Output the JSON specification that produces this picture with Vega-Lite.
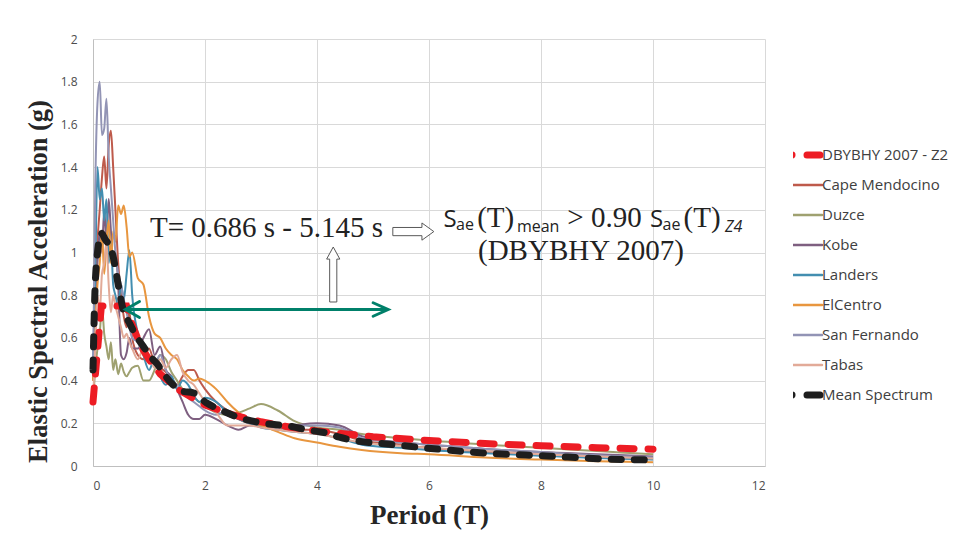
{
  "$schema": "https://vega.github.io/schema/vega-lite/v6.json",
  "width": 672,
  "height": 427,
  "autosize": {"type": "none"},
  "padding": {"left": 93, "top": 39, "right": 191, "bottom": 78},
  "background": "white",
  "config": {
    "view": {"stroke": null},
    "font": "Open Sans",
    "axis": {
      "grid": true,
      "gridColor": "#d9d9d9",
      "gridWidth": 1,
      "domainColor": "#bfbfbf",
      "ticks": false,
      "tickSize": 0,
      "labelFont": "Open Sans",
      "labelFontSize": 12,
      "labelColor": "#4d4d4d",
      "titleFont": "Liberation Serif",
      "titleFontWeight": "bold",
      "titleColor": "#262626"
    }
  },
  "datasets": {
    "rec": [
      {"T": 0, "Cape Mendocino": 0.40, "Duzce": 0.30, "Kobe": 0.42, "Landers": 0.45, "ElCentro": 0.40, "San Fernando": 0.42, "Tabas": 0.30},
      {"T": 0.04, "Cape Mendocino": 0.75, "Duzce": 0.45, "Kobe": 0.70, "Landers": 0.90, "ElCentro": 0.65, "San Fernando": 1.30, "Tabas": 0.55},
      {"T": 0.08, "Cape Mendocino": 1.05, "Duzce": 0.55, "Kobe": 0.95, "Landers": 1.40, "ElCentro": 0.85, "San Fernando": 1.70, "Tabas": 0.80},
      {"T": 0.12, "Cape Mendocino": 1.20, "Duzce": 0.62, "Kobe": 1.10, "Landers": 1.25, "ElCentro": 0.95, "San Fernando": 1.80, "Tabas": 0.72},
      {"T": 0.16, "Cape Mendocino": 1.35, "Duzce": 0.75, "Kobe": 1.00, "Landers": 1.30, "ElCentro": 1.10, "San Fernando": 1.55, "Tabas": 0.90},
      {"T": 0.2, "Cape Mendocino": 1.45, "Duzce": 0.62, "Kobe": 1.20, "Landers": 1.15, "ElCentro": 0.90, "San Fernando": 1.58, "Tabas": 0.95},
      {"T": 0.24, "Cape Mendocino": 1.30, "Duzce": 0.56, "Kobe": 1.05, "Landers": 1.25, "ElCentro": 1.05, "San Fernando": 1.72, "Tabas": 1.05},
      {"T": 0.28, "Cape Mendocino": 1.50, "Duzce": 0.50, "Kobe": 1.25, "Landers": 0.95, "ElCentro": 1.15, "San Fernando": 1.45, "Tabas": 0.85},
      {"T": 0.32, "Cape Mendocino": 1.57, "Duzce": 0.58, "Kobe": 1.10, "Landers": 1.05, "ElCentro": 0.95, "San Fernando": 1.30, "Tabas": 0.72},
      {"T": 0.36, "Cape Mendocino": 1.40, "Duzce": 0.45, "Kobe": 0.95, "Landers": 0.85, "ElCentro": 1.10, "San Fernando": 1.15, "Tabas": 0.80},
      {"T": 0.4, "Cape Mendocino": 1.20, "Duzce": 0.50, "Kobe": 1.00, "Landers": 0.80, "ElCentro": 1.05, "San Fernando": 1.00, "Tabas": 0.75},
      {"T": 0.45, "Cape Mendocino": 0.95, "Duzce": 0.43, "Kobe": 0.85, "Landers": 0.75, "ElCentro": 1.22, "San Fernando": 0.90, "Tabas": 0.70},
      {"T": 0.5, "Cape Mendocino": 0.80, "Duzce": 0.48, "Kobe": 0.52, "Landers": 0.85, "ElCentro": 1.18, "San Fernando": 0.85, "Tabas": 0.65},
      {"T": 0.55, "Cape Mendocino": 0.70, "Duzce": 0.44, "Kobe": 0.50, "Landers": 0.78, "ElCentro": 1.22, "San Fernando": 0.78, "Tabas": 0.60},
      {"T": 0.6, "Cape Mendocino": 0.65, "Duzce": 0.42, "Kobe": 0.53, "Landers": 0.90, "ElCentro": 1.12, "San Fernando": 0.72, "Tabas": 0.62},
      {"T": 0.65, "Cape Mendocino": 0.72, "Duzce": 0.44, "Kobe": 0.60, "Landers": 1.01, "ElCentro": 0.98, "San Fernando": 0.65, "Tabas": 0.58},
      {"T": 0.7, "Cape Mendocino": 0.60, "Duzce": 0.46, "Kobe": 0.55, "Landers": 0.80, "ElCentro": 1.00, "San Fernando": 0.60, "Tabas": 0.55},
      {"T": 0.8, "Cape Mendocino": 0.52, "Duzce": 0.47, "Kobe": 0.55, "Landers": 0.62, "ElCentro": 0.88, "San Fernando": 0.58, "Tabas": 0.50},
      {"T": 0.9, "Cape Mendocino": 0.50, "Duzce": 0.40, "Kobe": 0.60, "Landers": 0.52, "ElCentro": 0.85, "San Fernando": 0.52, "Tabas": 0.55},
      {"T": 1.0, "Cape Mendocino": 0.55, "Duzce": 0.40, "Kobe": 0.64, "Landers": 0.45, "ElCentro": 0.70, "San Fernando": 0.50, "Tabas": 0.52},
      {"T": 1.1, "Cape Mendocino": 0.48, "Duzce": 0.45, "Kobe": 0.52, "Landers": 0.50, "ElCentro": 0.62, "San Fernando": 0.48, "Tabas": 0.46},
      {"T": 1.2, "Cape Mendocino": 0.46, "Duzce": 0.52, "Kobe": 0.56, "Landers": 0.42, "ElCentro": 0.60, "San Fernando": 0.52, "Tabas": 0.50},
      {"T": 1.3, "Cape Mendocino": 0.44, "Duzce": 0.50, "Kobe": 0.45, "Landers": 0.38, "ElCentro": 0.55, "San Fernando": 0.45, "Tabas": 0.46},
      {"T": 1.4, "Cape Mendocino": 0.40, "Duzce": 0.44, "Kobe": 0.42, "Landers": 0.42, "ElCentro": 0.52, "San Fernando": 0.40, "Tabas": 0.50},
      {"T": 1.5, "Cape Mendocino": 0.38, "Duzce": 0.40, "Kobe": 0.36, "Landers": 0.36, "ElCentro": 0.50, "San Fernando": 0.38, "Tabas": 0.52},
      {"T": 1.6, "Cape Mendocino": 0.42, "Duzce": 0.36, "Kobe": 0.30, "Landers": 0.40, "ElCentro": 0.45, "San Fernando": 0.35, "Tabas": 0.44},
      {"T": 1.7, "Cape Mendocino": 0.45, "Duzce": 0.33, "Kobe": 0.24, "Landers": 0.38, "ElCentro": 0.42, "San Fernando": 0.32, "Tabas": 0.40},
      {"T": 1.8, "Cape Mendocino": 0.45, "Duzce": 0.32, "Kobe": 0.22, "Landers": 0.33, "ElCentro": 0.40, "San Fernando": 0.30, "Tabas": 0.38},
      {"T": 1.9, "Cape Mendocino": 0.40, "Duzce": 0.30, "Kobe": 0.22, "Landers": 0.30, "ElCentro": 0.41, "San Fernando": 0.28, "Tabas": 0.34},
      {"T": 2.0, "Cape Mendocino": 0.36, "Duzce": 0.28, "Kobe": 0.24, "Landers": 0.32, "ElCentro": 0.40, "San Fernando": 0.26, "Tabas": 0.30},
      {"T": 2.2, "Cape Mendocino": 0.30, "Duzce": 0.25, "Kobe": 0.22, "Landers": 0.30, "ElCentro": 0.36, "San Fernando": 0.24, "Tabas": 0.25},
      {"T": 2.4, "Cape Mendocino": 0.26, "Duzce": 0.24, "Kobe": 0.19, "Landers": 0.25, "ElCentro": 0.30, "San Fernando": 0.26, "Tabas": 0.19},
      {"T": 2.6, "Cape Mendocino": 0.22, "Duzce": 0.25, "Kobe": 0.17, "Landers": 0.22, "ElCentro": 0.25, "San Fernando": 0.23, "Tabas": 0.19},
      {"T": 2.8, "Cape Mendocino": 0.20, "Duzce": 0.27, "Kobe": 0.19, "Landers": 0.20, "ElCentro": 0.21, "San Fernando": 0.21, "Tabas": 0.19},
      {"T": 3.0, "Cape Mendocino": 0.19, "Duzce": 0.29, "Kobe": 0.19, "Landers": 0.18, "ElCentro": 0.19, "San Fernando": 0.20, "Tabas": 0.18},
      {"T": 3.3, "Cape Mendocino": 0.18, "Duzce": 0.26, "Kobe": 0.18, "Landers": 0.17, "ElCentro": 0.16, "San Fernando": 0.19, "Tabas": 0.17},
      {"T": 3.6, "Cape Mendocino": 0.17, "Duzce": 0.21, "Kobe": 0.19, "Landers": 0.16, "ElCentro": 0.13, "San Fernando": 0.19, "Tabas": 0.16},
      {"T": 4.0, "Cape Mendocino": 0.17, "Duzce": 0.18, "Kobe": 0.20, "Landers": 0.15, "ElCentro": 0.11, "San Fernando": 0.19, "Tabas": 0.15},
      {"T": 4.4, "Cape Mendocino": 0.15, "Duzce": 0.17, "Kobe": 0.19, "Landers": 0.13, "ElCentro": 0.09, "San Fernando": 0.18, "Tabas": 0.13},
      {"T": 4.8, "Cape Mendocino": 0.12, "Duzce": 0.15, "Kobe": 0.14, "Landers": 0.10, "ElCentro": 0.075, "San Fernando": 0.13, "Tabas": 0.11},
      {"T": 5.5, "Cape Mendocino": 0.10, "Duzce": 0.13, "Kobe": 0.11, "Landers": 0.085, "ElCentro": 0.06, "San Fernando": 0.11, "Tabas": 0.095},
      {"T": 6, "Cape Mendocino": 0.085, "Duzce": 0.12, "Kobe": 0.10, "Landers": 0.075, "ElCentro": 0.055, "San Fernando": 0.10, "Tabas": 0.085},
      {"T": 7, "Cape Mendocino": 0.065, "Duzce": 0.10, "Kobe": 0.08, "Landers": 0.06, "ElCentro": 0.04, "San Fernando": 0.08, "Tabas": 0.07},
      {"T": 8, "Cape Mendocino": 0.05, "Duzce": 0.085, "Kobe": 0.065, "Landers": 0.048, "ElCentro": 0.03, "San Fernando": 0.065, "Tabas": 0.055},
      {"T": 9, "Cape Mendocino": 0.04, "Duzce": 0.07, "Kobe": 0.055, "Landers": 0.038, "ElCentro": 0.022, "San Fernando": 0.05, "Tabas": 0.045},
      {"T": 10, "Cape Mendocino": 0.032, "Duzce": 0.055, "Kobe": 0.045, "Landers": 0.03, "ElCentro": 0.018, "San Fernando": 0.04, "Tabas": 0.035}
    ],
    "design": [
      {"T": 0, "DBYBHY 2007 - Z2": 0.30},
      {"T": 0.15, "DBYBHY 2007 - Z2": 0.75},
      {"T": 0.6, "DBYBHY 2007 - Z2": 0.75},
      {"T": 0.7, "DBYBHY 2007 - Z2": 0.663},
      {"T": 0.8, "DBYBHY 2007 - Z2": 0.596},
      {"T": 0.9, "DBYBHY 2007 - Z2": 0.542},
      {"T": 1.0, "DBYBHY 2007 - Z2": 0.499},
      {"T": 1.2, "DBYBHY 2007 - Z2": 0.431},
      {"T": 1.5, "DBYBHY 2007 - Z2": 0.361},
      {"T": 2.0, "DBYBHY 2007 - Z2": 0.286},
      {"T": 2.5, "DBYBHY 2007 - Z2": 0.239},
      {"T": 3.0, "DBYBHY 2007 - Z2": 0.207},
      {"T": 3.5, "DBYBHY 2007 - Z2": 0.183},
      {"T": 4.0, "DBYBHY 2007 - Z2": 0.164},
      {"T": 5.0, "DBYBHY 2007 - Z2": 0.137},
      {"T": 6.0, "DBYBHY 2007 - Z2": 0.119},
      {"T": 7.0, "DBYBHY 2007 - Z2": 0.105},
      {"T": 8.0, "DBYBHY 2007 - Z2": 0.095},
      {"T": 9.0, "DBYBHY 2007 - Z2": 0.086},
      {"T": 10.0, "DBYBHY 2007 - Z2": 0.079}
    ],
    "mean": [
      {"T": 0, "Mean Spectrum": 0.45},
      {"T": 0.03, "Mean Spectrum": 0.78},
      {"T": 0.08, "Mean Spectrum": 1.0},
      {"T": 0.15, "Mean Spectrum": 1.09},
      {"T": 0.22, "Mean Spectrum": 1.06},
      {"T": 0.3, "Mean Spectrum": 1.03},
      {"T": 0.36, "Mean Spectrum": 0.98},
      {"T": 0.45, "Mean Spectrum": 0.85},
      {"T": 0.54, "Mean Spectrum": 0.73},
      {"T": 0.65, "Mean Spectrum": 0.67},
      {"T": 0.78, "Mean Spectrum": 0.605},
      {"T": 0.9, "Mean Spectrum": 0.56},
      {"T": 1.0, "Mean Spectrum": 0.52},
      {"T": 1.14, "Mean Spectrum": 0.48},
      {"T": 1.3, "Mean Spectrum": 0.42},
      {"T": 1.43, "Mean Spectrum": 0.38},
      {"T": 1.6, "Mean Spectrum": 0.35},
      {"T": 1.79, "Mean Spectrum": 0.343},
      {"T": 2.03, "Mean Spectrum": 0.295},
      {"T": 2.3, "Mean Spectrum": 0.26},
      {"T": 2.57, "Mean Spectrum": 0.23},
      {"T": 2.98, "Mean Spectrum": 0.203},
      {"T": 3.57, "Mean Spectrum": 0.184},
      {"T": 3.8, "Mean Spectrum": 0.17},
      {"T": 4.17, "Mean Spectrum": 0.154},
      {"T": 4.4, "Mean Spectrum": 0.135},
      {"T": 4.8, "Mean Spectrum": 0.114},
      {"T": 5.24, "Mean Spectrum": 0.103},
      {"T": 6.2, "Mean Spectrum": 0.078},
      {"T": 7.09, "Mean Spectrum": 0.059},
      {"T": 8.1, "Mean Spectrum": 0.047},
      {"T": 9.05, "Mean Spectrum": 0.034},
      {"T": 10, "Mean Spectrum": 0.028}
    ]
  },
  "encoding": {
    "x": {
      "field": "T",
      "type": "quantitative",
      "scale": {"domain": [0, 12], "nice": false},
      "axis": {
        "values": [0, 2, 4, 6, 8, 10, 12],
        "title": "Period (T)",
        "titleFontSize": 27,
        "titleY": 57,
        "titleBaseline": "alphabetic",
        "labelPadding": 14
      }
    },
    "y": {
      "field": "v",
      "type": "quantitative",
      "scale": {"domain": [0, 2], "nice": false},
      "axis": {
        "values": [0, 0.2, 0.4, 0.6, 0.8, 1, 1.2, 1.4, 1.6, 1.8, 2],
        "format": ".2~f",
        "title": "Elastic Spectral Acceleration (g)",
        "titleFontSize": 26.5,
        "titleX": -47,
        "titleY": 242,
        "titleBaseline": "alphabetic",
        "labelPadding": 16
      }
    }
  },
  "layer": [
    {
      "encoding": {
        "color": {
          "field": "s",
          "type": "nominal",
          "scale": {
            "domain": ["DBYBHY 2007 - Z2", "Cape Mendocino", "Duzce", "Kobe", "Landers", "ElCentro", "San Fernando", "Tabas", "Mean Spectrum"],
            "range": ["#ED1C24", "#BE5A4B", "#9FA170", "#7E5F80", "#438EB0", "#E8963F", "#9294B5", "#E2AA98", "#1E1E1E"]
          },
          "legend": {
            "orient": "none",
            "legendX": 700,
            "legendY": 108,
            "title": null,
            "symbolType": "stroke",
            "symbolSize": 1849,
            "labelFont": "Open Sans",
            "labelFontSize": 15,
            "labelColor": "#404040",
            "labelOffset": 14,
            "clipHeight": 16,
            "rowPadding": 14,
            "encode": {
              "symbols": {
                "update": {
                  "strokeCap": {"value": "round"},
                  "strokeWidth": {"signal": "datum.value === 'Mean Spectrum' || datum.value === 'DBYBHY 2007 - Z2' ? 7 : 2.5"},
                  "strokeDash": {"signal": "datum.value === 'Mean Spectrum' || datum.value === 'DBYBHY 2007 - Z2' ? [13, 15] : [1, 0]"}
                }
              }
            }
          }
        }
      },
      "layer": [
        {
          "data": {"name": "rec"},
          "transform": [{"fold": ["Cape Mendocino", "Duzce", "Kobe", "Landers", "ElCentro", "San Fernando", "Tabas"], "as": ["s", "v"]}],
          "mark": {"type": "line", "strokeWidth": 2, "interpolate": "monotone"}
        },
        {
          "data": {"name": "design"},
          "transform": [{"fold": ["DBYBHY 2007 - Z2"], "as": ["s", "v"]}],
          "mark": {"type": "line", "strokeWidth": 7, "strokeDash": [14, 14], "strokeCap": "round"}
        },
        {
          "data": {"name": "mean"},
          "transform": [{"fold": ["Mean Spectrum"], "as": ["s", "v"]}],
          "mark": {"type": "line", "strokeWidth": 7, "strokeDash": [10, 13], "strokeCap": "round", "interpolate": "monotone"}
        }
      ]
    },
    {
      "data": {"values": [{"T": 0.58, "v": 0.733}, {"T": 5.27, "v": 0.733}]},
      "mark": {"type": "line", "color": "#00806A", "strokeWidth": 3}
    },
    {
      "data": {"values": [{"T": 0.58, "v": 0.733}]},
      "mark": {"type": "point", "shape": "M1,-0.57L0,0L1,0.57", "size": 784, "filled": false, "color": "#00806A", "strokeWidth": 3, "opacity": 1, "strokeCap": "round"}
    },
    {
      "data": {"values": [{"T": 5.27, "v": 0.733}]},
      "mark": {"type": "point", "shape": "M-1,-0.45L0,0L-1,0.45", "size": 900, "filled": false, "color": "#00806A", "strokeWidth": 3, "opacity": 1, "strokeCap": "round"}
    },
    {
      "data": {"values": [{"T": 5.72, "v": 1.098}]},
      "mark": {"type": "point", "shape": "M-1,-0.2L0.42,-0.2L0.42,-0.42L1,0L0.42,0.42L0.42,0.2L-1,0.2Z", "size": 1681, "filled": true, "fill": "white", "stroke": "#595959", "strokeWidth": 1, "opacity": 1}
    },
    {
      "data": {"values": [{"T": 4.29, "v": 0.897}]},
      "mark": {"type": "point", "shape": "M-0.13,1L-0.13,-0.56L-0.24,-0.56L0,-1L0.24,-0.56L0.13,-0.56L0.13,1Z", "size": 3025, "filled": true, "fill": "white", "stroke": "#595959", "strokeWidth": 1, "opacity": 1}
    },
    {
      "data": {"values": [
        {"T": 1.018, "v": 1.074, "txt": "T= 0.686 s - 5.145 s"},
        {"T": 6.86, "v": 1.121, "txt": "(T)"},
        {"T": 8.47, "v": 1.121, "txt": "> 0.90"},
        {"T": 10.545, "v": 1.121, "txt": "(T)"},
        {"T": 6.875, "v": 0.965, "txt": "(DBYBHY 2007)"}
      ]},
      "mark": {"type": "text", "align": "left", "baseline": "alphabetic", "font": "Liberation Serif", "fontSize": 29, "color": "#222222"},
      "encoding": {"text": {"field": "txt"}}
    },
    {
      "data": {"values": [
        {"T": 6.261, "v": 1.121, "txt": "S"},
        {"T": 9.946, "v": 1.121, "txt": "S"}
      ]},
      "mark": {"type": "text", "align": "left", "baseline": "alphabetic", "font": "Open Sans", "fontSize": 24, "color": "#222222"},
      "encoding": {"text": {"field": "txt"}}
    },
    {
      "data": {"values": [
        {"T": 6.482, "v": 1.105, "txt": "ae"},
        {"T": 7.57, "v": 1.097, "txt": "mean"},
        {"T": 10.17, "v": 1.105, "txt": "ae"}
      ]},
      "mark": {"type": "text", "align": "left", "baseline": "alphabetic", "font": "Open Sans", "fontSize": 16, "color": "#222222"},
      "encoding": {"text": {"field": "txt"}}
    },
    {
      "data": {"values": [{"T": 11.286, "v": 1.097, "txt": "Z4"}]},
      "mark": {"type": "text", "align": "left", "baseline": "alphabetic", "font": "Open Sans", "fontSize": 16, "fontStyle": "italic", "color": "#222222"},
      "encoding": {"text": {"field": "txt"}}
    }
  ]
}
